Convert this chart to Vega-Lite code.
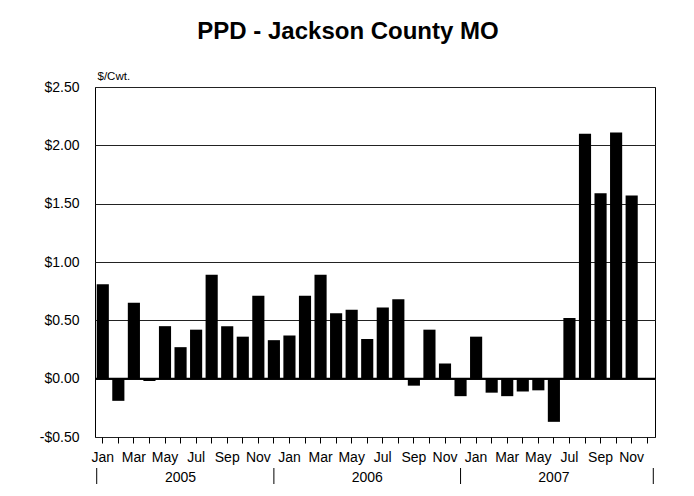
{
  "$schema": "https://vega.github.io/schema/vega-lite/v6.json",
  "width": 560,
  "height": 350,
  "autosize": {"type": "none"},
  "padding": {"left": 95, "top": 87, "right": 39, "bottom": 59},
  "background": "white",
  "config": {
    "font": "Liberation Sans",
    "view": {"stroke": "#000", "strokeWidth": 1}
  },
  "title": {
    "text": "PPD - Jackson County MO",
    "fontSize": 24,
    "fontWeight": "bold",
    "font": "Liberation Sans",
    "color": "#000",
    "anchor": "middle",
    "frame": "group",
    "baseline": "alphabetic",
    "dx": -27,
    "offset": 7
  },
  "datasets": {
    "ppd": [
      {"m": "2005-01", "v": 0.81}, {"m": "2005-02", "v": -0.19}, {"m": "2005-03", "v": 0.65},
      {"m": "2005-04", "v": -0.02}, {"m": "2005-05", "v": 0.45}, {"m": "2005-06", "v": 0.27},
      {"m": "2005-07", "v": 0.42}, {"m": "2005-08", "v": 0.89}, {"m": "2005-09", "v": 0.45},
      {"m": "2005-10", "v": 0.36}, {"m": "2005-11", "v": 0.71}, {"m": "2005-12", "v": 0.33},
      {"m": "2006-01", "v": 0.37}, {"m": "2006-02", "v": 0.71}, {"m": "2006-03", "v": 0.89},
      {"m": "2006-04", "v": 0.56}, {"m": "2006-05", "v": 0.59}, {"m": "2006-06", "v": 0.34},
      {"m": "2006-07", "v": 0.61}, {"m": "2006-08", "v": 0.68}, {"m": "2006-09", "v": -0.06},
      {"m": "2006-10", "v": 0.42}, {"m": "2006-11", "v": 0.13}, {"m": "2006-12", "v": -0.15},
      {"m": "2007-01", "v": 0.36}, {"m": "2007-02", "v": -0.12}, {"m": "2007-03", "v": -0.15},
      {"m": "2007-04", "v": -0.11}, {"m": "2007-05", "v": -0.10}, {"m": "2007-06", "v": -0.37},
      {"m": "2007-07", "v": 0.52}, {"m": "2007-08", "v": 2.10}, {"m": "2007-09", "v": 1.59},
      {"m": "2007-10", "v": 2.11}, {"m": "2007-11", "v": 1.57}
    ],
    "years": [
      {"m": "2005-06", "year": "2005"},
      {"m": "2006-06", "year": "2006"},
      {"m": "2007-06", "year": "2007"}
    ],
    "sepMid": [{"m": "2005-12"}, {"m": "2006-12"}],
    "sepStart": [{"m": "2005-01"}],
    "sepEnd": [{"m": "2007-12"}]
  },
  "layer": [
    {
      "data": {"name": "ppd"},
      "mark": {"type": "bar", "color": "#000"},
      "encoding": {
        "x": {
          "field": "m",
          "type": "ordinal",
          "sort": null,
          "scale": {
            "domain": ["2005-01","2005-02","2005-03","2005-04","2005-05","2005-06","2005-07","2005-08","2005-09","2005-10","2005-11","2005-12",
                       "2006-01","2006-02","2006-03","2006-04","2006-05","2006-06","2006-07","2006-08","2006-09","2006-10","2006-11","2006-12",
                       "2007-01","2007-02","2007-03","2007-04","2007-05","2007-06","2007-07","2007-08","2007-09","2007-10","2007-11","2007-12"],
            "paddingInner": 0.22,
            "paddingOuter": 0.11
          },
          "axis": {
            "title": null,
            "domain": false,
            "ticks": true,
            "tickColor": "#000",
            "tickSize": 6,
            "labelAngle": 0,
            "labelFontSize": 14,
            "labelColor": "#000",
            "labelPadding": 7,
            "labelOverlap": false,
            "labelExpr": "toNumber(slice(datum.value,5)) % 2 == 1 ? ['Jan','Feb','Mar','Apr','May','Jun','Jul','Aug','Sep','Oct','Nov','Dec'][toNumber(slice(datum.value,5))-1] : ''"
          }
        },
        "y": {
          "field": "v",
          "type": "quantitative",
          "scale": {"domain": [-0.5, 2.5], "nice": false, "zero": false},
          "axis": {
            "values": [-0.5, 0, 0.5, 1, 1.5, 2, 2.5],
            "grid": true,
            "gridColor": "#222",
            "gridOpacity": 1,
            "gridWidth": 1,
            "domain": false,
            "ticks": false,
            "labelFontSize": 14,
            "labelColor": "#000",
            "labelPadding": 16,
            "labelExpr": "(datum.value < 0 ? '-' : '') + '$' + format(abs(datum.value), '.2f')",
            "title": "$/Cwt.",
            "titleAngle": 0,
            "titleFontSize": 11.5,
            "titleFontWeight": "normal",
            "titleColor": "#000",
            "titleAlign": "left",
            "titleBaseline": "alphabetic",
            "titleX": 2,
            "titleY": -8
          }
        }
      }
    },
    {
      "data": {"values": [{"z": 0}]},
      "mark": {"type": "rule", "color": "#000", "strokeWidth": 2},
      "encoding": {"y": {"field": "z", "type": "quantitative"}}
    },
    {
      "data": {"name": "years"},
      "mark": {"type": "text", "fontSize": 14, "color": "#000", "baseline": "middle", "align": "center", "dy": 41},
      "encoding": {
        "x": {"field": "m", "type": "ordinal"},
        "y": {"datum": -0.5, "type": "quantitative"},
        "text": {"field": "year"}
      }
    },
    {
      "data": {"name": "sepMid"},
      "mark": {"type": "rule", "color": "#000", "strokeWidth": 1, "yOffset": 31, "y2Offset": 47},
      "encoding": {
        "x": {"field": "m", "type": "ordinal", "bandPosition": 0.5},
        "y": {"datum": -0.5, "type": "quantitative"},
        "y2": {"datum": -0.5}
      }
    },
    {
      "data": {"name": "sepStart"},
      "mark": {"type": "rule", "color": "#000", "strokeWidth": 1, "yOffset": 31, "y2Offset": 47},
      "encoding": {
        "x": {"field": "m", "type": "ordinal", "bandPosition": 0},
        "y": {"datum": -0.5, "type": "quantitative"},
        "y2": {"datum": -0.5}
      }
    },
    {
      "data": {"name": "sepEnd"},
      "mark": {"type": "rule", "color": "#000", "strokeWidth": 1, "yOffset": 31, "y2Offset": 47},
      "encoding": {
        "x": {"field": "m", "type": "ordinal", "bandPosition": 1},
        "y": {"datum": -0.5, "type": "quantitative"},
        "y2": {"datum": -0.5}
      }
    }
  ]
}
